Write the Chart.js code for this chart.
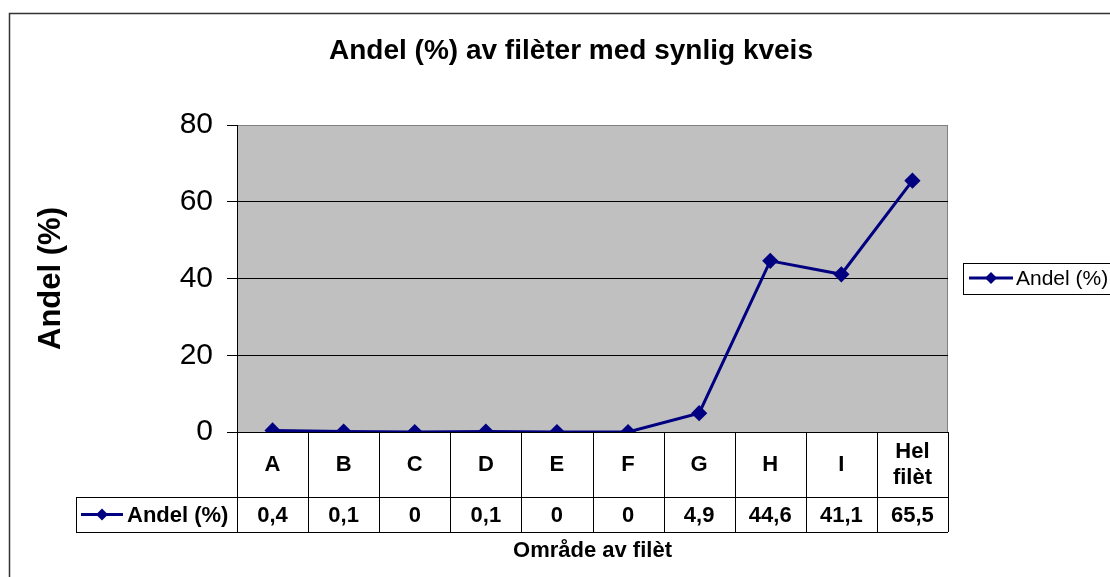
<!DOCTYPE html>
<html lang="no">
<head>
<meta charset="utf-8">
<title>Andel (%) av filèter med synlig kveis</title>
<script src="https://cdn.jsdelivr.net/npm/chart.js@4.4.1/dist/chart.umd.min.js"></script>
<style>
  body { margin: 0; background: #fff; }
  canvas { display: block; }
</style>
</head>
<body>
<canvas id="myChart" width="1110" height="577"></canvas>
<script>
// data lest av figuren
const omrader = ['A', 'B', 'C', 'D', 'E', 'F', 'G', 'H', 'I', ['Hel', 'filèt']];
const andel = [0.4, 0.1, 0, 0.1, 0, 0, 4.9, 44.6, 41.1, 65.5];
const yTicks = [0, 20, 40, 60, 80];
const tittel = 'Andel (%) av filèter med synlig kveis';
const yTittel = 'Andel (%)';
const xTittel = 'Område av filèt';
const serieNavn = 'Andel (%)';

const marine = '#000080';
const skrift = "'Liberation Sans', Arial, sans-serif";

// tall med komma som i tabellen
function medKomma(v) {
  return String(v).replace('.', ',');
}

// liten strek med ruter, brukt i legende og tabell
function tegnMerke(ctx, x1, x2, y) {
  ctx.save();
  ctx.strokeStyle = marine;
  ctx.lineWidth = 3;
  ctx.beginPath();
  ctx.moveTo(x1, y);
  ctx.lineTo(x2, y);
  ctx.stroke();
  const mx = (x1 + x2) / 2;
  ctx.fillStyle = marine;
  ctx.beginPath();
  ctx.moveTo(mx, y - 6);
  ctx.lineTo(mx + 6, y);
  ctx.lineTo(mx, y + 6);
  ctx.lineTo(mx - 6, y);
  ctx.closePath();
  ctx.fill();
  ctx.restore();
}

const bakgrunn = {
  id: 'bakgrunn',
  beforeDraw(chart) {
    const ctx = chart.ctx;
    const a = chart.chartArea;
    ctx.save();
    ctx.fillStyle = '#fff';
    ctx.fillRect(0, 0, chart.width, chart.height);
    // ramme rundt hele figuren
    ctx.strokeStyle = '#333';
    ctx.lineWidth = 1.5;
    ctx.strokeRect(9.5, 13.5, chart.width + 20, chart.height + 20);
    // tittel
    ctx.fillStyle = '#000';
    ctx.font = 'bold 28px ' + skrift;
    ctx.textAlign = 'center';
    ctx.textBaseline = 'middle';
    ctx.fillText(tittel, 571, 51);
    // grå plottflate
    ctx.fillStyle = '#c0c0c0';
    ctx.fillRect(a.left, a.top, a.right - a.left, a.bottom - a.top);
    ctx.strokeStyle = '#808080';
    ctx.lineWidth = 1;
    ctx.strokeRect(a.left + 0.5, a.top + 0.5, a.right - a.left - 1, a.bottom - a.top);
    ctx.restore();
  },
  afterDraw(chart) {
    const ctx = chart.ctx;
    const x = chart.scales.x;
    const a = chart.chartArea;
    const bredde = (x.right - x.left) / omrader.length;
    const topp = a.bottom;
    const midt = 497;
    const bunn = 532;
    const venstre = 76;

    ctx.save();
    ctx.strokeStyle = '#000';
    ctx.lineWidth = 1;
    ctx.beginPath();
    // loddrette streker i tabellen
    for (let i = 0; i <= omrader.length; i++) {
      const px = Math.round(x.left + i * bredde) + 0.5;
      ctx.moveTo(px, topp);
      ctx.lineTo(px, bunn);
    }
    ctx.moveTo(venstre + 0.5, midt);
    ctx.lineTo(venstre + 0.5, bunn);
    ctx.moveTo(venstre, midt + 0.5);
    ctx.lineTo(x.right, midt + 0.5);
    ctx.moveTo(venstre, bunn + 0.5);
    ctx.lineTo(x.right, bunn + 0.5);
    ctx.stroke();

    ctx.fillStyle = '#000';
    ctx.font = 'bold 22px ' + skrift;
    ctx.textAlign = 'center';
    ctx.textBaseline = 'middle';
    omrader.forEach((lab, i) => {
      const cx = x.getPixelForValue(i);
      if (Array.isArray(lab)) {
        ctx.fillText(lab[0], cx, (topp + midt) / 2 - 13);
        ctx.fillText(lab[1], cx, (topp + midt) / 2 + 13);
      } else {
        ctx.fillText(lab, cx, (topp + midt) / 2);
      }
      ctx.fillText(medKomma(andel[i]), cx, (midt + bunn) / 2 + 1);
    });

    // seriecelle i tabellen
    tegnMerke(ctx, 81, 123, (midt + bunn) / 2);
    ctx.textAlign = 'left';
    ctx.fillText(serieNavn, 127, (midt + bunn) / 2 + 1);

    // aksetittel under tabellen
    ctx.textAlign = 'center';
    ctx.fillText(xTittel, (a.left + a.right) / 2, 551);

    // legende til høyre
    ctx.strokeStyle = '#000';
    ctx.strokeRect(963.5, 263.5, 170, 31);
    tegnMerke(ctx, 969, 1013, 278);
    ctx.font = '21px ' + skrift;
    ctx.textAlign = 'left';
    ctx.fillText(serieNavn, 1016, 279);
    ctx.restore();
  }
};

const ctx = document.getElementById('myChart');
new Chart(ctx, {
  type: 'line',
  data: {
    labels: omrader,
    datasets: [{
      label: serieNavn,
      data: andel,
      borderColor: marine,
      backgroundColor: marine,
      borderWidth: 3,
      pointStyle: 'rectRot',
      pointRadius: 6,
      pointHoverRadius: 6,
      tension: 0,
      fill: false
    }]
  },
  options: {
    responsive: false,
    animation: false,
    layout: {
      padding: { top: 125, right: 162, bottom: 0, left: 0 }
    },
    plugins: {
      legend: { display: false },
      title: { display: false },
      tooltip: { enabled: false }
    },
    scales: {
      x: {
        offset: true,
        grid: { display: false },
        ticks: { display: false },
        border: { display: true, color: '#000', width: 1 },
        afterFit: s => { s.height = 145; }
      },
      y: {
        min: 0,
        max: 80,
        afterBuildTicks: s => { s.ticks = yTicks.map(v => ({ value: v })); },
        afterFit: s => { s.width = 237; },
        ticks: {
          color: '#000',
          padding: 14,
          font: { family: skrift, size: 30 }
        },
        grid: {
          color: c => (c.tick && c.tick.value === 80 ? '#808080' : '#000'),
          tickColor: '#000',
          tickLength: 10,
          lineWidth: 1
        },
        border: { display: true, color: '#000', width: 1 },
        title: {
          display: true,
          text: yTittel,
          color: '#000',
          font: { family: skrift, size: 31, weight: 'bold' },
          padding: { top: 33, bottom: 0 }
        }
      }
    }
  },
  plugins: [bakgrunn]
});
</script>
</body>
</html>
